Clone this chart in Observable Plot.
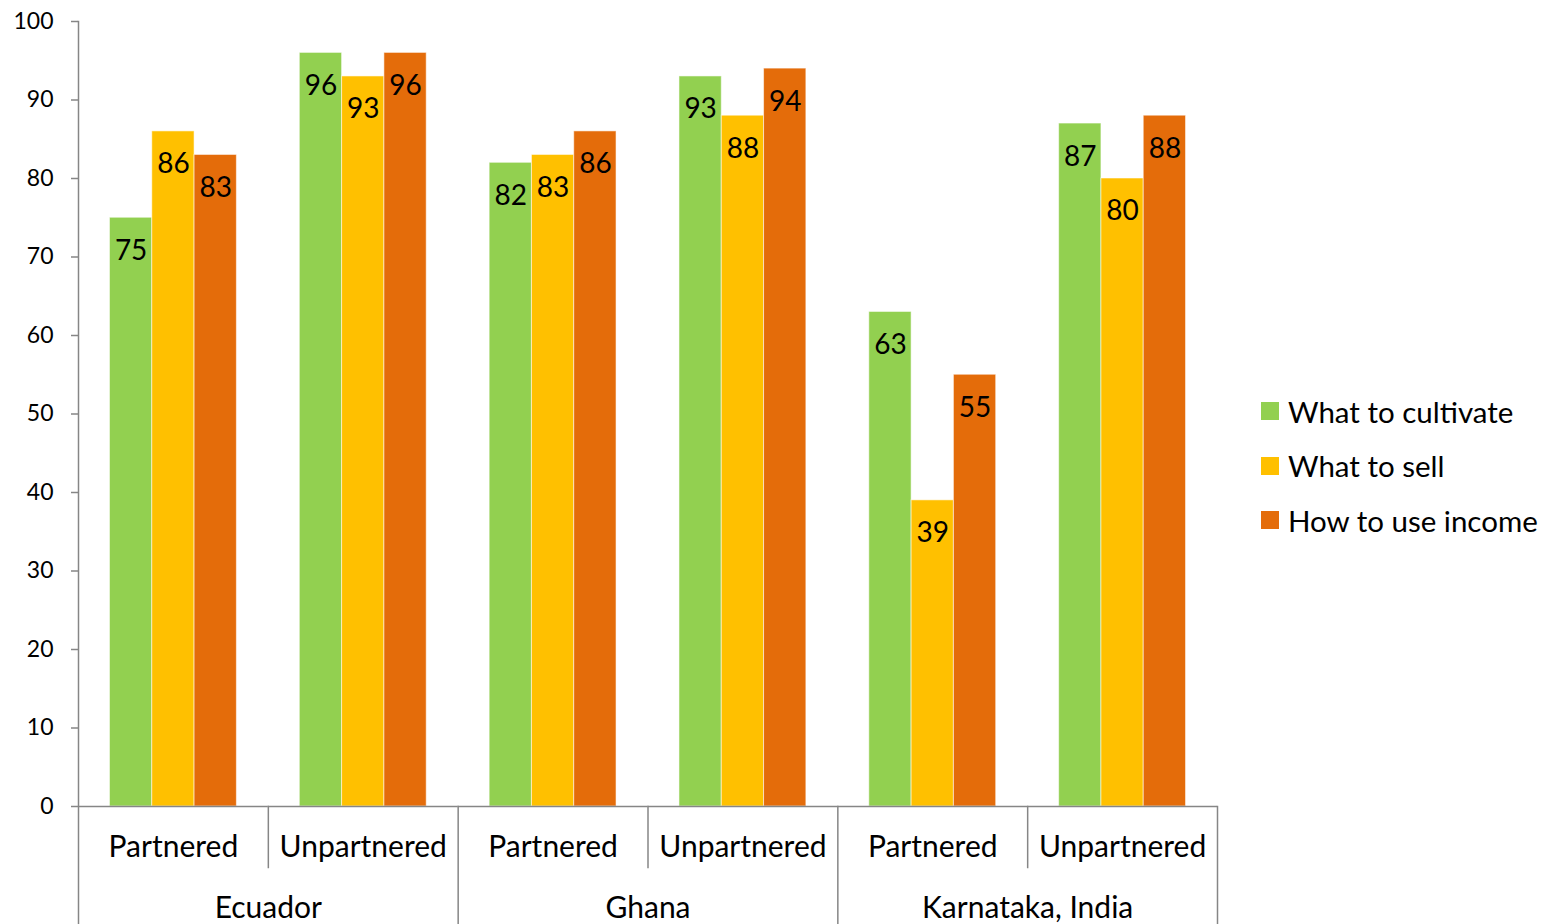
<!DOCTYPE html>
<html><head><meta charset="utf-8">
<script src="https://cdn.jsdelivr.net/npm/d3@7"></script>
<script src="https://cdn.jsdelivr.net/npm/@observablehq/plot@0.6"></script>
<style>
body{margin:0;background:#fff;font-family:Lato,sans-serif}
#wrap{position:relative;width:1549px;height:924px;overflow:hidden;background:#fff}
#legend{position:absolute;left:1261px;top:384px;font-size:29.5px;color:#000;font-family:Lato,sans-serif}
.item{display:flex;align-items:center;height:54.5px;white-space:nowrap}
.sw{width:18px;height:18px;margin-right:9px;flex:none}
</style></head><body><div id="wrap"><div id="legend"></div></div>
<script>
const countries = ["Ecuador", "Ghana", "Karnataka, India"];
const statuses = ["Partnered", "Unpartnered"];
const series = ["What to cultivate", "What to sell", "How to use income"];
const colors = ["#92D050", "#FFC000", "#E46C0A"];
// order: Ecuador P, Ecuador U, Ghana P, Ghana U, Karnataka P, Karnataka U
const cultivate = [75, 96, 82, 93, 63, 87];
const sell = [86, 93, 83, 88, 39, 80];
const income = [83, 96, 86, 94, 55, 88];
const yTicks = [0, 10, 20, 30, 40, 50, 60, 70, 80, 90, 100];

const seriesValues = [cultivate, sell, income];
const keyRows = countries.flatMap(c => statuses.map(s => ({key: c + "|" + s, country: c, status: s})));
const keys = keyRows.map(d => d.key);
const rows = [];
keyRows.forEach((k, i) => series.forEach((s, j) => rows.push({key: k.key, series: s, value: seriesValues[j][i]})));
const countryRows = countries.map(c => ({key: c + "|Partnered", country: c}));

const W = 1549, H = 924, mt = 21, mb = 118, ml = 78, mr = 332;
const plotH = H - mt - mb;
const axisColor = "#868686";
const sep = (key, opts) => Plot.frame({fx: () => key, stroke: axisColor, strokeWidth: 1.5, ...opts});

const chart = Plot.plot({
  width: W, height: H, marginTop: mt, marginBottom: mb, marginLeft: ml, marginRight: mr,
  style: {fontFamily: "Lato, sans-serif", background: "transparent", color: "#000"},
  fx: {domain: keys, padding: 0, round: false, axis: null},
  x: {domain: series, paddingInner: 0, paddingOuter: 0.744, round: false, axis: null},
  y: {domain: [0, 100], axis: null},
  color: {domain: series, range: colors},
  marks: [
    Plot.barY(rows, {fx: "key", x: "series", y: "value", fill: "series", stroke: "#fff", strokeOpacity: 0.55, strokeWidth: 1}),
    Plot.ruleY([0], {stroke: axisColor, strokeWidth: 1.5}),
    Plot.axisY({ticks: yTicks, tickSize: 7, tickPadding: 18, fontSize: 23, stroke: axisColor, strokeWidth: 1.5, fill: "#000", label: null, tickFormat: d => String(d)}),
    sep(keys[0], {anchor: "left", insetBottom: -mb}),
    sep(keys[2], {anchor: "left", insetTop: plotH, insetBottom: -mb}),
    sep(keys[4], {anchor: "left", insetTop: plotH, insetBottom: -mb}),
    sep(keys[1], {anchor: "left", insetTop: plotH, insetBottom: -61}),
    sep(keys[3], {anchor: "left", insetTop: plotH, insetBottom: -61}),
    sep(keys[5], {anchor: "left", insetTop: plotH, insetBottom: -61}),
    sep(keys[5], {anchor: "right", insetTop: plotH, insetBottom: -mb}),
    Plot.text(rows, {fx: "key", x: "series", y: "value", text: d => String(d.value), dy: 33, lineAnchor: "middle", fontSize: 28, fill: "#000"}),
    Plot.text(keyRows, {fx: "key", text: "status", frameAnchor: "bottom", lineAnchor: "middle", dy: 41, fontSize: 30, fill: "#000"}),
    Plot.text(countryRows, {fx: "key", text: "country", frameAnchor: "bottom-right", textAnchor: "middle", lineAnchor: "middle", dy: 102, fontSize: 30, fill: "#000"})
  ]
});
chart.style.position = "absolute";
chart.style.left = "0px";
chart.style.top = "0px";
const wrap = document.getElementById("wrap");
wrap.insertBefore(chart, wrap.firstChild);

const legend = document.getElementById("legend");
series.forEach((s, i) => {
  const it = document.createElement("div");
  it.className = "item";
  const sw = document.createElement("span");
  sw.className = "sw";
  sw.style.background = colors[i];
  const tx = document.createElement("span");
  tx.textContent = s;
  it.appendChild(sw); it.appendChild(tx);
  legend.appendChild(it);
});
</script></body></html>
